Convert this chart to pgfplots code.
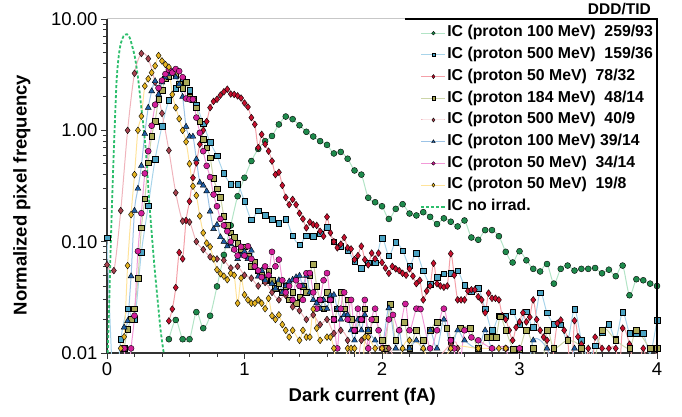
\documentclass[border=0pt]{standalone}
\usepackage{pgfplots}
\pgfplotsset{compat=1.18}
\usepackage{fontspec}
\setmainfont{Liberation Sans}
\definecolor{cG}{HTML}{1E8A4C}\definecolor{lG}{HTML}{B2E4C6}
\definecolor{cT}{HTML}{4BA3C3}\definecolor{lT}{HTML}{A8D4EA}
\definecolor{cR}{HTML}{C8102E}\definecolor{lR}{HTML}{F4A0A8}
\definecolor{cO}{HTML}{A9A957}\definecolor{lO}{HTML}{CCD5A8}
\definecolor{cB}{HTML}{A8434F}\definecolor{lB}{HTML}{F0B4BC}
\definecolor{cU}{HTML}{1F5FA6}\definecolor{lU}{HTML}{9CC3E6}
\definecolor{cM}{HTML}{D21F9A}\definecolor{lM}{HTML}{F29AD8}
\definecolor{cY}{HTML}{E6B422}\definecolor{lY}{HTML}{FFE39A}
\definecolor{cN}{HTML}{2DBE6C}
\begin{document}
\begin{tikzpicture}
\begin{axis}[
 scale only axis, width=550pt, height=334pt,
 xmin=0, xmax=4, ymin=0.01, ymax=10, ymode=log,
 axis x line*=bottom, axis y line*=left,
 axis line style={-, line width=1.2pt, draw=black!80},
 xtick={0,1,2,3,4}, minor x tick num=4,
 ytick={0.01,0.1,1,10}, yticklabels={0.01,0.10,1.00,10.00},
 minor ytick={0.02,0.03,0.04,0.05,0.06,0.07,0.08,0.09,0.2,0.3,0.4,0.5,0.6,0.7,0.8,0.9,2,3,4,5,6,7,8,9},
 tick align=outside, major tick length=6pt, minor tick length=4pt,
 tick style={line width=0.8pt, black!80},
 ticklabel style={font=\fontsize{18.5}{21}\selectfont},
 /pgf/number format/assume math mode=true,
 xlabel={Dark current (fA)}, ylabel={Normalized pixel frequency},
 label style={font=\bfseries\fontsize{18.5}{22}\selectfont},
 xlabel style={at={(axis description cs:0.464,-0.132)}, anchor=center},
 ylabel style={at={(axis description cs:-0.155,0.473)}, anchor=center},
 legend style={at={(1,1)}, anchor=north east, draw=none, fill=none,
   font=\bfseries\fontsize{15.8}{18}\selectfont, inner xsep=3pt, inner ysep=5.75pt,
   row sep=5.2pt, nodes={text height=11pt, text depth=3.5pt, inner sep=1pt}},
 legend cell align=left,
 legend image code/.code={\draw[mark repeat=2,mark phase=2,every mark/.append style={scale=0.6}] plot coordinates {(0pt,0pt) (12pt,0pt) (24pt,0pt)};},
 every axis plot/.append style={line width=1pt, smooth, tension=0.5},
]
% 259/93
\addplot[color=lG, mark=*, mark size=3pt, mark options={draw=black, fill=cG, line width=0.4pt, solid}] coordinates {
(0.45,0.0133)(0.50,0.0198)(0.55,0.0133)(0.60,0.0133)(0.65,0.0233)(0.70,0.0167)(0.75,0.0216)(0.80,0.0396)(0.85,0.076)(0.90,0.14)(0.95,0.256)(1.00,0.375)(1.05,0.53)(1.10,0.68)(1.15,0.80)(1.20,0.89)(1.25,1.13)(1.30,1.33)(1.35,1.26)(1.40,1.11)(1.45,0.97)(1.50,0.88)(1.55,0.80)(1.60,0.74)(1.65,0.62)(1.70,0.64)(1.75,0.556)(1.80,0.436)(1.85,0.40)(1.90,0.248)(1.95,0.226)(2.00,0.208)(2.05,0.16)(2.10,0.197)(2.15,0.217)(2.20,0.179)(2.25,0.172)(2.30,0.184)(2.35,0.167)(2.40,0.144)(2.45,0.162)(2.50,0.151)(2.55,0.137)(2.60,0.155)(2.65,0.109)(2.70,0.104)(2.75,0.127)(2.80,0.127)(2.85,0.112)(2.90,0.081)(2.95,0.065)(3.00,0.082)(3.05,0.068)(3.10,0.057)(3.15,0.054)(3.20,0.063)(3.25,0.042)(3.30,0.057)(3.35,0.061)(3.40,0.055)(3.45,0.057)(3.50,0.057)(3.55,0.058)(3.60,0.052)(3.65,0.056)(3.70,0.049)(3.75,0.061)(3.80,0.033)(3.85,0.046)(3.90,0.045)(3.95,0.042)(4.00,0.040)};
\addlegendentry{IC (proton 100 MeV)\ \ 259/93}
% 159/36
\addplot[color=lT, mark=square*, mark size=2.8pt, mark options={draw=black, fill=cT, line width=0.4pt, solid}] coordinates {
(0.00,0.109)(0.05,0.004)(0.10,0.0133)(0.15,0.025)(0.20,0.02)(0.25,0.08)(0.30,0.21)(0.35,0.55)(0.40,1.09)(0.45,1.87)(0.50,2.4)(0.55,2.9)(0.60,2.3)(0.65,1.7)(0.70,1.15)(0.75,0.78)(0.80,0.59)(0.85,0.41)(0.90,0.33)(0.95,0.33)(1.00,0.23)(1.05,0.158)(1.10,0.19)(1.15,0.172)(1.20,0.16)(1.25,0.146)(1.30,0.16)(1.35,0.113)(1.40,0.094)(1.45,0.113)(1.50,0.112)(1.55,0.118)(1.60,0.135)(1.65,0.10)(1.70,0.091)(1.75,0.084)(1.80,0.0665)(1.85,0.058)(1.90,0.0645)(1.95,0.0645)(2.00,0.108)(2.05,0.075)(2.10,0.099)(2.15,0.083)(2.20,0.061)(2.25,0.079)(2.30,0.0548)(2.35,0.0417)(2.40,0.0481)(2.45,0.0515)(2.50,0.0522)(2.55,0.055)(2.60,0.0404)(2.65,0.0357)(2.70,0.0383)(2.75,0.025)(2.80,0.016)(2.85,0.0216)(2.90,0.0216)(2.95,0.0235)(3.00,0.018)(3.05,0.0234)(3.10,0.017)(3.15,0.0349)(3.20,0.023)(3.25,0.0182)(3.30,0.0179)(3.35,0.013)(3.40,0.0248)(3.45,0.013)(3.50,0.009)(3.55,0.0116)(3.60,0.0153)(3.65,0.0181)(3.70,0.0133)(3.75,0.0233)(3.80,0.0151)(3.85,0.0151)(3.90,0.0151)(3.95,0.0099)(4.00,0.0198)};
\addlegendentry{IC (proton 500 MeV)\ \ 159/36}
% 78/32
\addplot[color=lR, mark=diamond*, mark size=3.4pt, mark options={draw=black, fill=cR, line width=0.4pt, solid}] coordinates {
(0.45,0.0194)(0.475,0.0248)(0.50,0.0387)(0.525,0.08)(0.55,0.07)(0.575,0.155)(0.60,0.23)(0.625,0.375)(0.65,0.51)(0.675,0.75)(0.70,1.0)(0.725,1.2)(0.75,1.6)(0.775,1.82)(0.80,1.9)(0.825,2.07)(0.85,2.22)(0.875,2.34)(0.90,2.12)(0.925,2.1)(0.95,2.04)(0.975,1.95)(1.00,1.76)(1.025,1.62)(1.05,1.3)(1.075,1.13)(1.10,0.70)(1.125,0.92)(1.15,0.75)(1.175,0.65)(1.20,0.53)(1.225,0.40)(1.25,0.42)(1.275,0.32)(1.30,0.25)(1.325,0.215)(1.35,0.24)(1.375,0.215)(1.40,0.18)
(1.425,0.16)(1.45,0.133)(1.475,0.15)(1.50,0.142)(1.525,0.14)(1.55,0.124)(1.575,0.112)(1.60,0.167)(1.625,0.12)(1.65,0.10)(1.675,0.088)(1.70,0.095)(1.725,0.109)(1.75,0.088)(1.775,0.086)(1.80,0.069)(1.825,0.075)(1.85,0.091)(1.875,0.069)(1.90,0.062)(1.925,0.079)(1.95,0.07)(1.975,0.079)(2.0,0.065)(2.025,0.058)(2.05,0.052)(2.075,0.06)(2.10,0.057)(2.125,0.055)(2.15,0.052)(2.175,0.05)(2.20,0.057)(2.225,0.049)(2.25,0.042)(2.275,0.045)(2.30,0.030)(2.325,0.036)(2.35,0.040)(2.375,0.064)(2.40,0.042)(2.425,0.04)(2.45,0.039)(2.475,0.04)(2.50,0.078)(2.525,0.05)(2.55,0.030)(2.575,0.030)(2.60,0.030)(2.625,0.036)(2.65,0.037)(2.675,0.037)(2.70,0.032)(2.725,0.030)(2.75,0.023)(2.775,0.0345)(2.80,0.031)(2.825,0.031)(2.85,0.030)(2.875,0.0216)(2.90,0.02)(2.925,0.016)(2.95,0.013)(2.975,0.017)(3.00,0.019)(3.025,0.023)(3.05,0.019)(3.075,0.021)(3.10,0.030)(3.125,0.02)(3.15,0.016)(3.175,0.0139)(3.20,0.013)(3.225,0.006)(3.25,0.011)(3.275,0.0185)(3.30,0.0198)(3.325,0.016)(3.35,0.0133)(3.375,0.006)(3.40,0.0195)(3.425,0.014)(3.45,0.012)(3.475,0.006)(3.50,0.011)(3.525,0.006)(3.55,0.0139)(3.60,0.011)(3.65,0.011)(3.70,0.011)(3.725,0.006)(3.75,0.0167)(3.80,0.012)(3.85,0.006)(3.90,0.011)(3.95,0.006)(4.00,0.011)};
\addlegendentry{IC (proton 50 MeV)\ \ 78/32}
% 48/14
\addplot[color=lO, mark=square*, mark size=2.8pt, mark options={draw=black, fill=cO, line width=0.4pt, solid}] coordinates {
(0.125,0.011)(0.15,0.0163)(0.175,0.02)(0.20,0.025)(0.225,0.047)(0.25,0.133)(0.275,0.243)(0.30,0.51)(0.325,0.89)(0.35,1.21)(0.375,1.9)(0.40,2.3)(0.425,2.9)(0.45,3.05)(0.475,3.3)(0.50,3.2)(0.525,2.6)(0.55,2.4)(0.575,2.7)(0.60,2.0)(0.625,1.9)(0.65,1.6)(0.675,1.21)(0.70,0.83)(0.725,0.7)(0.75,0.57)(0.775,0.37)(0.80,0.3)(0.825,0.25)(0.85,0.17)(0.875,0.14)(0.90,0.12)(0.925,0.11)(0.95,0.097)(0.975,0.085)(1.00,0.09)(1.025,0.075)(1.05,0.06)(1.075,0.065)(1.10,0.055)(1.125,0.05)(1.15,0.045)(1.175,0.055)(1.20,0.045)(1.225,0.038)(1.25,0.042)(1.275,0.035)(1.30,0.04)(1.325,0.03)(1.35,0.035)(1.375,0.028)(1.40,0.032)(1.425,0.04)(1.45,0.035)(1.475,0.05)(1.50,0.063)(1.525,0.04)(1.55,0.03)(1.575,0.025)(1.60,0.035)(1.625,0.03)(1.65,0.02)(1.675,0.025)(1.70,0.035)(1.725,0.025)(1.75,0.03)(1.775,0.02)(1.80,0.016)(1.85,0.02)(1.875,0.025)(1.90,0.016)(1.95,0.02)(2.00,0.013)(2.025,0.011)(2.06,0.0276)(2.10,0.013)(2.16,0.019)(2.20,0.011)(2.25,0.016)(2.30,0.013)(2.35,0.016)(2.40,0.019)(2.47,0.0167)(2.50,0.013)(2.57,0.0167)(2.64,0.0167)(2.70,0.011)(2.76,0.0139)(2.80,0.0139)(2.83,0.0139)(2.86,0.0212)(2.90,0.016)(2.955,0.0108)(3.00,0.0108)(3.05,0.016)(3.10,0.011)(3.15,0.005)(3.20,0.016)(3.25,0.011)(3.35,0.013)(3.45,0.011)(3.50,0.005)(3.60,0.016)(3.70,0.013)(3.80,0.011)(3.85,0.016)(3.95,0.011)(4.00,0.011)};
\addlegendentry{IC (proton 184 MeV)\ \ 48/14}
% 40/9
\addplot[color=lB, mark=diamond*, mark size=3.4pt, mark options={draw=black, fill=cB, line width=0.4pt, solid}] coordinates {
(0.00,0.062)(0.05,0.055)(0.10,0.19)(0.15,1.0)(0.20,3.25)(0.25,4.9)(0.30,4.4)(0.35,2.7)(0.40,1.42)(0.45,0.66)(0.50,0.275)(0.55,0.153)(0.60,0.15)(0.65,0.10)(0.70,0.085)(0.75,0.073)(0.80,0.07)(0.85,0.068)(0.90,0.058)(0.95,0.06)(1.00,0.05)(1.05,0.047)(1.10,0.04)(1.15,0.043)(1.20,0.035)(1.25,0.03)(1.30,0.033)(1.35,0.026)(1.40,0.024)(1.45,0.02)(1.50,0.022)(1.55,0.018)(1.60,0.02)(1.65,0.015)(1.70,0.016)(1.75,0.013)(1.80,0.005)(1.85,0.013)(1.90,0.011)(2.00,0.005)(2.05,0.011)(2.20,0.005)(2.50,0.012)(2.55,0.011)(2.60,0.005)};
\addlegendentry{IC (proton 500 MeV)\ \ 40/9}
% 39/14
\addplot[color=lU, mark=triangle*, mark size=3.4pt, mark options={draw=black, fill=cU, line width=0.4pt, solid}] coordinates {
(0.125,0.017)(0.15,0.0194)(0.175,0.049)(0.20,0.19)(0.225,0.3)(0.25,0.48)(0.275,0.93)(0.30,1.6)(0.325,2.25)(0.35,2.77)(0.375,2.1)(0.40,2.7)(0.425,3.0)(0.45,3.2)(0.475,3.35)(0.50,3.0)(0.525,2.6)(0.55,2.0)(0.575,1.08)(0.60,0.88)(0.625,0.88)(0.65,0.55)(0.675,0.34)(0.70,0.32)(0.725,0.284)(0.75,0.187)(0.775,0.13)(0.80,0.142)(0.825,0.11)(0.85,0.1)(0.875,0.091)(0.90,0.095)(0.925,0.085)(0.95,0.07)(0.975,0.075)(1.00,0.0815)(1.025,0.07)(1.05,0.0833)(1.075,0.06)(1.10,0.0487)(1.125,0.055)(1.15,0.045)(1.175,0.05)(1.20,0.042)(1.225,0.038)(1.25,0.045)(1.275,0.035)(1.30,0.04)(1.325,0.044)(1.35,0.0456)(1.375,0.048)(1.40,0.0495)(1.425,0.04)(1.45,0.0495)(1.475,0.035)(1.50,0.03)(1.525,0.028)(1.55,0.025)(1.575,0.03)(1.60,0.025)(1.625,0.033)(1.65,0.0333)(1.675,0.025)(1.70,0.02)(1.725,0.022)(1.75,0.022)(1.775,0.016)(1.80,0.013)(1.825,0.02)(1.85,0.016)(1.875,0.022)(1.90,0.016)(1.95,0.013)(2.00,0.011)(2.05,0.0253)(2.10,0.011)(2.125,0.016)(2.15,0.011)(2.20,0.011)(2.25,0.013)(2.30,0.011)(2.35,0.016)(2.40,0.011)(2.45,0.02)(2.50,0.011)(2.55,0.016)(2.60,0.013)(2.70,0.011)(2.75,0.016)(2.80,0.011)(2.90,0.011)(3.00,0.011)(3.05,0.005)(3.10,0.013)(3.20,0.011)(3.30,0.005)(3.40,0.011)};
\addlegendentry{IC (proton 100 MeV) 39/14}
% 34/14
\addplot[color=lM, mark=*, mark size=3pt, mark options={draw=black, fill=cM, line width=0.4pt, solid}] coordinates {
(0.125,0.011)(0.15,0.005)(0.175,0.011)(0.20,0.0216)(0.225,0.082)(0.25,0.18)(0.275,0.41)(0.30,0.65)(0.325,1.1)(0.35,1.7)(0.375,2.4)(0.40,2.8)(0.425,3.2)(0.45,3.5)(0.475,3.3)(0.50,3.55)(0.525,3.4)(0.55,3.0)(0.575,1.93)(0.60,1.9)(0.625,1.9)(0.65,1.3)(0.675,0.95)(0.70,0.65)(0.725,0.48)(0.75,0.38)(0.775,0.265)(0.80,0.208)(0.825,0.16)(0.85,0.14)(0.875,0.124)(0.90,0.1)(0.925,0.085)(0.95,0.075)(0.975,0.09)(1.00,0.075)(1.025,0.091)(1.05,0.07)(1.075,0.06)(1.10,0.055)(1.125,0.048)(1.15,0.06)(1.175,0.05)(1.20,0.081)(1.225,0.06)(1.25,0.069)(1.275,0.045)(1.30,0.035)(1.325,0.04)(1.35,0.03)(1.375,0.045)(1.40,0.04)(1.425,0.03)(1.45,0.052)(1.475,0.0522)(1.50,0.035)(1.525,0.025)(1.55,0.03)(1.575,0.045)(1.60,0.0522)(1.625,0.03)(1.65,0.02)(1.675,0.011)(1.70,0.025)(1.725,0.035)(1.75,0.02)(1.775,0.03)(1.80,0.016)(1.825,0.025)(1.85,0.02)(1.875,0.03)(1.90,0.011)(1.925,0.02)(1.95,0.025)(1.975,0.016)(2.00,0.011)(2.05,0.02)(2.08,0.022)(2.125,0.016)(2.17,0.0276)(2.20,0.016)(2.25,0.025)(2.28,0.0248)(2.35,0.011)(2.40,0.016)(2.45,0.025)(2.50,0.013)(2.525,0.011)(2.55,0.005)(2.60,0.016)(2.65,0.0138)(2.70,0.013)(2.80,0.011)(2.90,0.011)(2.95,0.005)(3.00,0.011)};
\addlegendentry{IC (proton 50 MeV)\ \ 34/14}
% 19/8
\addplot[color=lY, mark=diamond*, mark size=3.4pt, mark options={draw=black, fill=cY, line width=0.4pt, solid}] coordinates {
(0.10,0.011)(0.125,0.014)(0.15,0.061)(0.175,0.175)(0.20,0.40)(0.225,1.0)(0.25,1.34)(0.275,2.5)(0.30,2.9)(0.325,3.3)(0.35,3.8)(0.375,4.7)(0.40,4.2)(0.425,3.9)(0.45,3.7)(0.475,2.1)(0.50,1.6)(0.525,1.27)(0.55,1.0)(0.575,0.79)(0.60,0.50)(0.625,0.315)(0.65,0.26)(0.675,0.17)(0.70,0.12)(0.725,0.097)(0.75,0.09)(0.775,0.07)(0.80,0.056)(0.825,0.0515)(0.85,0.049)(0.875,0.0455)(0.90,0.052)(0.925,0.05)(0.95,0.028)(0.975,0.047)(1.00,0.0333)(1.025,0.03)(1.05,0.028)(1.075,0.028)(1.10,0.03)(1.125,0.028)(1.15,0.025)(1.175,0.031)(1.20,0.0216)(1.225,0.02)(1.25,0.022)(1.275,0.018)(1.30,0.016)(1.325,0.0139)(1.35,0.016)(1.40,0.013)(1.425,0.016)(1.45,0.0139)(1.475,0.0139)(1.50,0.0248)(1.525,0.0167)(1.55,0.013)(1.60,0.0139)(1.625,0.0139)(1.65,0.011)(1.70,0.005)(1.75,0.011)(1.775,0.011)(1.80,0.011)(1.85,0.005)(1.875,0.0139)(1.90,0.0139)(1.95,0.011)(2.00,0.011)(2.10,0.005)(2.15,0.011)(2.20,0.013)(2.30,0.011)(2.40,0.005)(2.50,0.011)(2.70,0.011)(2.85,0.011)(2.90,0.011)};
\addlegendentry{IC (proton 50 MeV)\ \ 19/8}
% no irrad
\addplot[color=cN, no marks, line width=1.8pt, dash pattern=on 3pt off 2pt] coordinates {
(0.005,0.01)(0.015,0.025)(0.028,0.1)(0.04,0.3)(0.055,1.0)(0.07,2.8)(0.085,4.6)(0.10,6.0)(0.12,7.0)(0.145,7.3)(0.165,6.8)(0.185,5.6)(0.205,4.4)(0.228,2.8)(0.252,1.5)(0.268,1.0)(0.285,0.6)(0.305,0.25)(0.325,0.12)(0.345,0.06)(0.373,0.026)(0.39,0.016)(0.41,0.0105)(0.42,0.009)};
\addlegendentry{IC no irrad.}
\end{axis}
\draw[line width=1pt, black!22] (current axis.north west) -- ++(298pt,0);
\draw[line width=1.2pt, black] ([xshift=298pt]current axis.north west) -- (current axis.north east) -- (current axis.south east);
\node[anchor=base east, inner sep=0pt, font=\bfseries\fontsize{15.5}{18}\selectfont] at ([xshift=-6pt,yshift=4pt]current axis.north east) {DDD/TID};
\pgfresetboundingbox
\path ([xshift=-107pt,yshift=-64pt]current axis.south west) rectangle ++(682pt,417pt);
\end{tikzpicture}
\end{document}
